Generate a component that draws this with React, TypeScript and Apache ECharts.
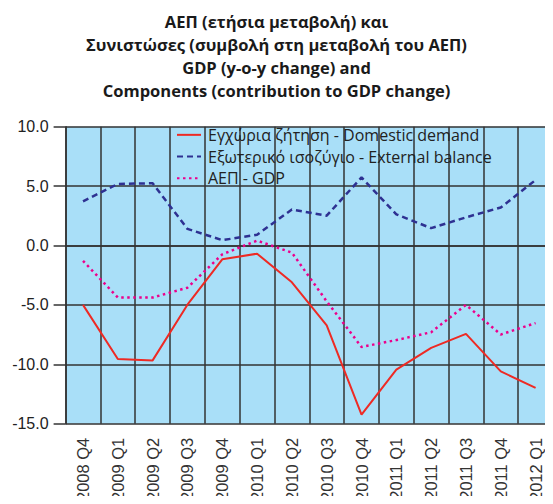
import React, { useEffect, useRef } from "react";
import * as echarts from "echarts";

const categories = [
  "2008 Q4", "2009 Q1", "2009 Q2", "2009 Q3", "2009 Q4",
  "2010 Q1", "2010 Q2", "2010 Q3", "2010 Q4",
  "2011 Q1", "2011 Q2", "2011 Q3", "2011 Q4", "2012 Q1",
];
const domesticDemand = [-5.0, -9.55, -9.67, -4.98, -1.16, -0.69, -3.1, -6.73, -14.24, -10.44, -8.62, -7.44, -10.6, -11.98];
const externalBalance = [3.72, 5.18, 5.24, 1.4, 0.45, 0.91, 3.03, 2.51, 5.73, 2.62, 1.46, 2.37, 3.2, 5.51];
const gdp = [-1.29, -4.38, -4.38, -3.55, -0.74, 0.41, -0.6, -4.7, -8.54, -7.96, -7.3, -5.0, -7.49, -6.53];

const seriesNames = [
  "Εγχώρια ζήτηση - Domestic demand",
  "Εξωτερικό ισοζύγιο - External balance",
  "ΑΕΠ - GDP",
];
const titleText =
  "ΑΕΠ (ετήσια μεταβολή) και\nΣυνιστώσες (συμβολή στη μεταβολή του ΑΕΠ)\nGDP (y-o-y change) and\nComponents (contribution to GDP change)";

export default function App() {
  const ref = useRef<HTMLDivElement>(null);
  useEffect(() => {
    if (!ref.current) return;
    const chart = echarts.init(ref.current, null, { renderer: "svg" });
    chart.setOption({
      animation: false,
      backgroundColor: "#ffffff",
      title: {
        text: titleText,
        left: "center",
        top: 10,
        padding: [0, 8, 0, 0],
        textStyle: {
          fontFamily: "Open Sans",
          fontWeight: "bold",
          fontSize: 16.5,
          lineHeight: 23,
          color: "#1a1a1a",
        },
      },
      legend: {
        orient: "vertical",
        left: 176,
        top: 124,
        padding: 0,
        itemGap: 0,
        itemWidth: 24,
        itemHeight: 14,
        itemStyle: { opacity: 0 },
        data: seriesNames,
        textStyle: {
          fontFamily: "Open Sans",
          fontSize: 16,
          lineHeight: 21.7,
          color: "#222",
          padding: [0, 0, 0, 2],
        },
      },
      grid: {
        left: 65.6,
        right: -4,
        top: 126.7,
        bottom: 74.7,
        show: true,
        backgroundColor: "#a9dff8",
        borderWidth: 0,
      },
      xAxis: {
        type: "category",
        data: categories,
        boundaryGap: true,
        axisLine: { show: true, lineStyle: { color: "#333", width: 1.5 } },
        axisTick: { show: false },
        splitLine: { show: true, interval: 0, lineStyle: { color: "#333", width: 1.5 } },
        axisLabel: {
          interval: 0,
          rotate: 90,
          margin: 14,
          fontFamily: "Liberation Sans",
          fontSize: 16.5,
          color: "#333",
        },
      },
      yAxis: {
        type: "value",
        min: -15,
        max: 10,
        interval: 5,
        axisLine: { show: true, lineStyle: { color: "#333", width: 1.5 } },
        axisTick: { show: true, length: 12, lineStyle: { color: "#333", width: 1.5 } },
        splitLine: { show: true, lineStyle: { color: "#333", width: 1.5 } },
        axisLabel: {
          margin: 17,
          fontFamily: "Liberation Sans",
          fontSize: 16,
          color: "#222",
          formatter: (v: number) => v.toFixed(1),
        },
      },
      series: [
        {
          name: seriesNames[0],
          type: "line",
          data: domesticDemand,
          symbol: "none",
          lineStyle: { color: "#ee2a24", width: 2 },
          itemStyle: { color: "#ee2a24" },
        },
        {
          name: seriesNames[1],
          type: "line",
          data: externalBalance,
          symbol: "none",
          lineStyle: { color: "#2e3192", width: 2.5, type: [6, 4] },
          itemStyle: { color: "#2e3192" },
        },
        {
          name: seriesNames[2],
          type: "line",
          data: gdp,
          symbol: "none",
          lineStyle: { color: "#ec008c", width: 2.5, type: [2.5, 3.5] },
          itemStyle: { color: "#ec008c" },
        },
      ],
    });
    return () => chart.dispose();
  }, []);
  return <div ref={ref} style={{ width: 553, height: 504, margin: -8 }} />;
}
